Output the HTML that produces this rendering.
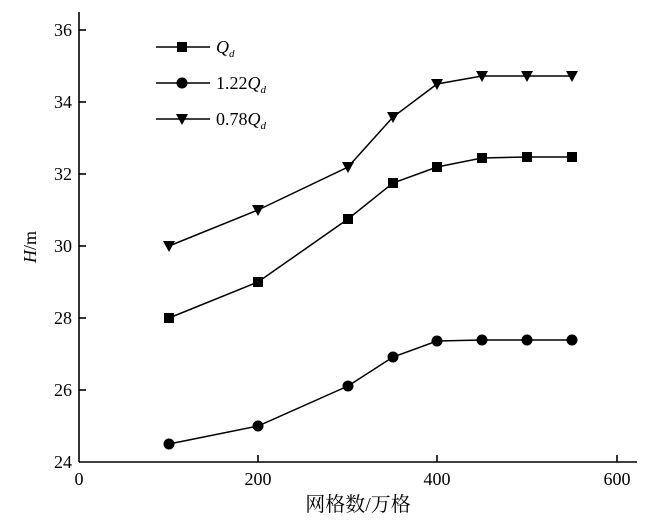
<!DOCTYPE html>
<html><head><meta charset="utf-8"><style>body{margin:0;background:#fff}</style></head><body>
<svg width="650" height="522" xmlns="http://www.w3.org/2000/svg" font-family="Liberation Serif, serif" fill="#000">
<g stroke="#000" stroke-width="1.6" fill="none">
<line x1="79" y1="12" x2="79" y2="462"/>
<line x1="79" y1="462" x2="637" y2="462"/>
<line x1="79" y1="30" x2="86" y2="30"/><line x1="79" y1="102" x2="86" y2="102"/><line x1="79" y1="174" x2="86" y2="174"/><line x1="79" y1="246" x2="86" y2="246"/><line x1="79" y1="318" x2="86" y2="318"/><line x1="79" y1="390" x2="86" y2="390"/>
<line x1="258" y1="462" x2="258" y2="455"/><line x1="437" y1="462" x2="437" y2="455"/><line x1="617" y1="462" x2="617" y2="455"/>
</g>
<g font-size="18" text-anchor="end">
<text x="72" y="36">36</text><text x="72" y="108">34</text><text x="72" y="180">32</text><text x="72" y="252">30</text><text x="72" y="324">28</text><text x="72" y="396">26</text><text x="72" y="468">24</text>
</g>
<g font-size="18" text-anchor="middle">
<text x="79" y="485">0</text><text x="258" y="485">200</text><text x="437" y="485">400</text><text x="617" y="485">600</text>
</g>
<text x="358" y="511" font-size="20" text-anchor="middle" font-family="Liberation Serif, 'Noto Serif CJK SC', serif">网格数/万格</text>
<text transform="translate(36,247) rotate(-90)" font-size="18" text-anchor="middle"><tspan font-style="italic">H</tspan>/m</text>
<g stroke="#000" stroke-width="1.5" fill="none">
<polyline points="169,318 258,282 348,219 393,183 437,167 482,158 527,157 572,157"/>
<polyline points="169,444 258,426 348,386 393,357 437,341 482,340 527,340 572,340"/>
<polyline points="169,246 258,210 348,167 393,117 437,84 482,76 527,76 572,76"/>
<line x1="156" y1="47" x2="210" y2="47"/><line x1="156" y1="83" x2="210" y2="83"/><line x1="156" y1="119" x2="210" y2="119"/>
</g>
<g>
<rect x="164" y="313" width="10" height="10"/><rect x="253" y="277" width="10" height="10"/><rect x="343" y="214" width="10" height="10"/><rect x="388" y="178" width="10" height="10"/><rect x="432" y="162" width="10" height="10"/><rect x="477" y="153" width="10" height="10"/><rect x="522" y="152" width="10" height="10"/><rect x="567" y="152" width="10" height="10"/>
<circle cx="169" cy="444" r="5.5"/><circle cx="258" cy="426" r="5.5"/><circle cx="348" cy="386" r="5.5"/><circle cx="393" cy="357" r="5.5"/><circle cx="437" cy="341" r="5.5"/><circle cx="482" cy="340" r="5.5"/><circle cx="527" cy="340" r="5.5"/><circle cx="572" cy="340" r="5.5"/>
<path d="M163,241 h12 l-6,11 z"/>
<path d="M252,205 h12 l-6,11 z"/><path d="M342,162 h12 l-6,11 z"/><path d="M387,112 h12 l-6,11 z"/><path d="M431,79 h12 l-6,11 z"/><path d="M476,71 h12 l-6,11 z"/><path d="M521,71 h12 l-6,11 z"/><path d="M566,71 h12 l-6,11 z"/>
<rect x="177" y="42" width="10" height="10"/><circle cx="182" cy="83" r="5.5"/><path d="M176,114 h12 l-6,11 z"/>
</g>
<g font-size="18">
<text x="216" y="53"><tspan font-style="italic">Q</tspan><tspan font-style="italic" font-size="11" dy="4">d</tspan></text>
<text x="216" y="89">1.22<tspan font-style="italic">Q</tspan><tspan font-style="italic" font-size="11" dy="4">d</tspan></text>
<text x="216" y="125">0.78<tspan font-style="italic">Q</tspan><tspan font-style="italic" font-size="11" dy="4">d</tspan></text>
</g>
</svg>
</body></html>
